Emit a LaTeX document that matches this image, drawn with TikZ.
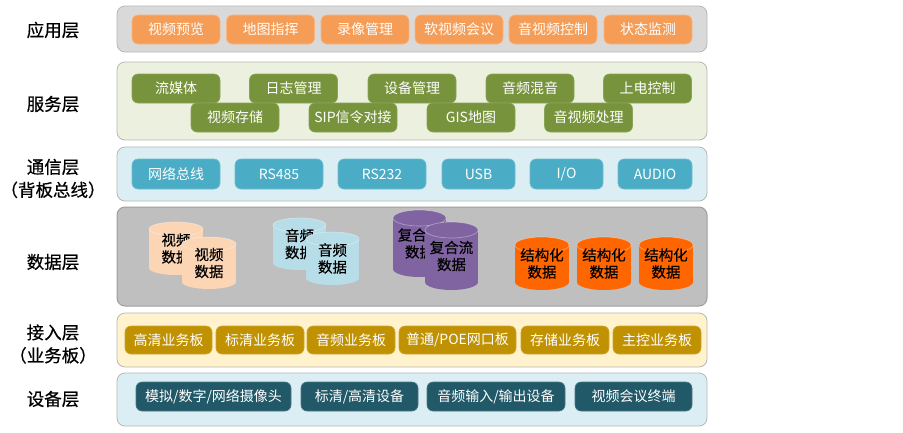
\documentclass[tikz,border=0pt]{standalone}
\usepackage{fontspec}
\setmainfont{Noto Sans CJK SC}
\newfontfamily\heavyfont{Noto Sans CJK SC}[FakeBold=0.5]
\definecolor{appP}{HTML}{D9D9D9}
\definecolor{srvP}{HTML}{EBF1DE}
\definecolor{comP}{HTML}{DBEEF4}
\definecolor{datP}{HTML}{BFBFBF}
\definecolor{accP}{HTML}{FFF2CC}
\definecolor{devP}{HTML}{DBEEF4}
\definecolor{appC}{HTML}{F59D56}
\definecolor{srvC}{HTML}{77933C}
\definecolor{comC}{HTML}{4BACC6}
\definecolor{accC}{HTML}{C09100}
\definecolor{devC}{HTML}{215968}
\definecolor{vidC}{HTML}{FCD5B5}
\definecolor{audC}{HTML}{B7DEE8}
\definecolor{cmpC}{HTML}{8064A2}
\definecolor{strC}{HTML}{FF6600}
\tikzset{
  panel/.style={rounded corners=8pt, line width=0.8pt, draw=black!28},
  lbl/.style={font=\heavyfont\fontsize{17.5}{23}\selectfont, align=center, text=black, inner sep=0pt},
  bx/.style={rounded corners=6pt, inner sep=0pt, text=white, line width=0.6pt,
    font=\fontsize{14}{16}\selectfont, minimum height=29pt},
  appbox/.style={bx, fill=appC, draw=appC!75!white},
  srvbox/.style={bx, fill=srvC, draw=srvC!85!white},
  combox/.style={bx, fill=comC, draw=comC!80!white, minimum height=30pt},
  accbox/.style={bx, fill=accC, draw=accC!80!white, minimum height=28pt},
  devbox/.style={bx, fill=devC, draw=devC!80!white},
  cyltext/.style={font=\heavyfont\fontsize{14.5}{17}\selectfont, align=center, inner sep=0pt, text=black}
}
% #1 name, #2 x1, #3 x2, #4 top, #5 bottom, #6 colour, #7 ry, #8 text
\newcommand\mycyl[8]{%
  \pgfmathsetmacro\cxc{(#2+#3)/2}%
  \pgfmathsetmacro\cw{(#3-#2)/2}%
  \pgfmathsetmacro\cyt{#4+#7}%
  \pgfmathsetmacro\cyb{#5-#7}%
  \pgfmathsetmacro\cym{(#4+#5)/2}%
  \fill[#6] (#2,\cyt) rectangle (#3,\cyb);
  \fill[#6] (\cxc,\cyb) ellipse [x radius=\cw, y radius=#7];
  \fill[#6] (\cxc,\cyt) ellipse [x radius=\cw, y radius=#7];
  \draw[white, opacity=0.35, line width=0.7pt] (\cxc,\cyt) ellipse [x radius=\cw, y radius=#7];
  \node[cyltext] (#1) at (\cxc,\cym) {#8};
}
\begin{document}
\begin{tikzpicture}[x=1pt,y=-1pt]
\useasboundingbox[fill=white] (0,0) rectangle (903,432);

% panels
\draw[panel, fill=appP] (117,6) rectangle (707,52);
\draw[panel, fill=srvP] (117,62) rectangle (707,140);
\draw[panel, fill=comP] (117,147) rectangle (707,201);
\draw[panel, fill=datP, draw=black!38, line width=1pt] (117,207) rectangle (707,306);
\draw[panel, fill=accP] (117,313) rectangle (707,367);
\draw[panel, fill=devP] (117,373) rectangle (707,426);

% layer labels
\node[lbl] (l1) at (53,30) {应用层};
\node[lbl] (l2) at (53,104) {服务层};
\node[lbl] (l3) at (53,178.5) {通信层\\（背板总线）};
\node[lbl] (l4) at (53,262) {数据层};
\node[lbl] (l5) at (53,344) {接入层\\（业务板）};
\node[lbl] (l6) at (53,399) {设备层};

% application layer
\node[appbox, minimum width=88pt] (a1) at (176,29.5) {视频预览};
\node[appbox, minimum width=88pt] (a2) at (270.5,29.5) {地图指挥};
\node[appbox, minimum width=88pt] (a3) at (365,29.5) {录像管理};
\node[appbox, minimum width=88pt] (a4) at (459,29.5) {软视频会议};
\node[appbox, minimum width=88pt] (a5) at (553,29.5) {音视频控制};
\node[appbox, minimum width=88pt] (a6) at (648,29.5) {状态监测};

% service layer
\node[srvbox, minimum width=88pt] (s1) at (176,88.5) {流媒体};
\node[srvbox, minimum width=88pt] (s2) at (293.5,88.5) {日志管理};
\node[srvbox, minimum width=88pt] (s3) at (412,88.5) {设备管理};
\node[srvbox, minimum width=88pt] (s4) at (530,88.5) {音频混音};
\node[srvbox, minimum width=88pt] (s5) at (647.5,88.5) {上电控制};
\node[srvbox, minimum width=88pt] (s6) at (235,117.5) {视频存储};
\node[srvbox, minimum width=88pt] (s7) at (353,117.5) {SIP信令对接};
\node[srvbox, minimum width=88pt] (s8) at (471,117.5) {GIS地图};
\node[srvbox, minimum width=88pt] (s9) at (588.5,117.5) {音视频处理};

% communication layer
\node[combox, minimum width=88pt] (c1) at (176,174) {网络总线};
\node[combox, minimum width=88pt] (c2) at (279,174) {RS485};
\node[combox, minimum width=88pt] (c3) at (382,174) {RS232};
\node[combox, minimum width=73pt] (c4) at (478.5,174) {USB};
\node[combox, minimum width=73pt] (c5) at (566.5,174) {I/O};
\node[combox, minimum width=74pt] (c6) at (655,174) {AUDIO};

% data layer
\mycyl{d1}{149}{203}{222}{275}{vidC}{7}{视频\\数据}
\mycyl{d2}{182}{236}{237}{289}{vidC}{7}{视频\\数据}
\mycyl{d3}{273}{326}{218}{270}{audC}{7}{音频\\数据}
\mycyl{d4}{306}{359}{232}{285}{audC}{7}{音频\\数据}
\mycyl{d5}{393}{446}{210}{277}{cmpC}{8}{复合流\\数据}
\mycyl{d6}{425}{478}{222}{290}{cmpC}{8}{复合流\\数据}
\mycyl{d7}{515}{569}{237}{290}{strC}{8}{结构化\\数据}
\mycyl{d8}{577}{631}{237}{290}{strC}{8}{结构化\\数据}
\mycyl{d9}{639}{693}{237}{290}{strC}{8}{结构化\\数据}

% access layer
\node[accbox, minimum width=87pt] (b1) at (168.5,340) {高清业务板};
\node[accbox, minimum width=88pt] (b2) at (260,340) {标清业务板};
\node[accbox, minimum width=88pt] (b3) at (351,340) {音频业务板};
\node[accbox, minimum width=117pt] (b4) at (457.5,340) {普通/POE网口板};
\node[accbox, minimum width=88pt] (b5) at (565,340) {存储业务板};
\node[accbox, minimum width=88pt] (b6) at (657,340) {主控业务板};

% device layer
\node[devbox, minimum width=155pt] (e1) at (213.5,396.5) {模拟/数字/网络摄像头};
\node[devbox, minimum width=117pt] (e2) at (359.5,396.5) {标清/高清设备};
\node[devbox, minimum width=138pt] (e3) at (496,396.5) {音频输入/输出设备};
\node[devbox, minimum width=117pt] (e4) at (633.5,396.5) {视频会议终端};
\end{tikzpicture}
\end{document}
